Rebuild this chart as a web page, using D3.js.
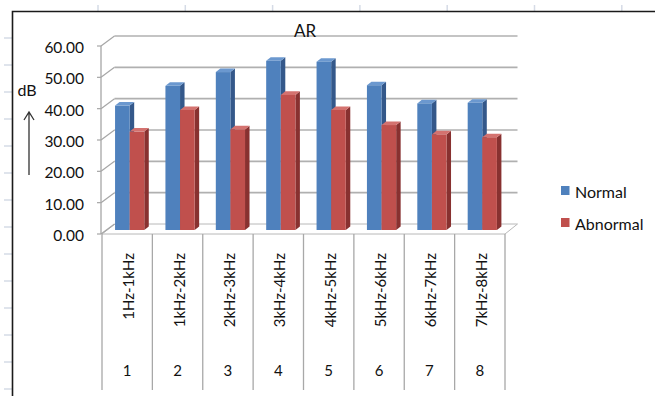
<!DOCTYPE html>
<html>
<head>
<meta charset="utf-8">
<script src="https://cdn.jsdelivr.net/npm/d3@7"></script>
<style>
  html, body { margin: 0; padding: 0; background: #fff; }
  svg { display: block; font-family: Lato, "Open Sans", sans-serif; }
</style>
</head>
<body>
<div id="chart"></div>
<script>
const categories = ["1Hz-1kHz", "1kHz-2kHz", "2kHz-3kHz", "3kHz-4kHz", "4kHz-5kHz", "5kHz-6kHz", "6kHz-7kHz", "7kHz-8kHz"];
const groupIds   = ["1", "2", "3", "4", "5", "6", "7", "8"];
const seriesNames = ["Normal", "Abnormal"];
const normal   = [39.7, 46.0, 50.4, 54.0, 53.7, 46.2, 40.4, 40.6];
const abnormal = [31.4, 38.3, 32.1, 43.1, 38.3, 33.5, 30.5, 29.6];
const yTicks   = [0, 10, 20, 30, 40, 50, 60];

const W = 655, H = 396;
const colors = {
  Normal:   { front: "#4f81bd", side: "#34588a", top: "#6b98cf" },
  Abnormal: { front: "#c0504d", side: "#883130", top: "#d4726f" }
};

// 3d depth: back wall is offset by (dx, dy) from the front plane
const depthX = 12.5, depthY = -10;
const barDepth = 0.4;            // where bar fronts sit between front and back
const barThick = { x: 4.5, y: -3.6 };

const svg = d3.select("#chart").append("svg").attr("width", W).attr("height", H);

// spreadsheet grid stubs outside the chart frame
const gridCol = "#d5dbe6";
d3.range(98, W, 87.3).forEach(x =>
  svg.append("line").attr("x1", x).attr("x2", x).attr("y1", 5).attr("y2", 11)
    .attr("stroke", gridCol).attr("stroke-width", 1.5));
d3.range(38, H, 27).forEach(y =>
  svg.append("line").attr("x1", 4).attr("x2", 12).attr("y1", y).attr("y2", y)
    .attr("stroke", gridCol).attr("stroke-width", 1.5));

// chart frame
svg.append("path").attr("d", `M12.5,${H}V11.5H${W}`)
  .attr("fill", "none").attr("stroke", "#1a1a1a").attr("stroke-width", 1.6);

const x0 = d3.scaleBand().domain(categories).range([102, 505]);
const x1 = d3.scaleBand().domain(seriesNames)
  .range([x0.bandwidth() * 0.16, x0.bandwidth() * 0.74]);
const y = d3.scaleLinear().domain([0, 60]).range([234, 46]);

const plot = svg.append("g");
const axisCol = "#a6a6a6";

// floor
const fl = x0.range();
plot.append("path")
  .attr("d", `M${fl[0]},${y(0)}L${fl[1]},${y(0)}L${fl[1] + depthX},${y(0) + depthY}L${fl[0] + depthX + 0.5},${y(0) + depthY}Z`)
  .attr("fill", "#fff").attr("stroke", "#b8b8b8").attr("stroke-width", 1);

// back wall gridlines + left side wall diagonals
yTicks.forEach(t => {
  if (t > 0) {
    plot.append("line")
      .attr("x1", fl[0] + depthX).attr("x2", fl[1] + depthX)
      .attr("y1", y(t) + depthY).attr("y2", y(t) + depthY)
      .attr("stroke", "#b0b0b0").attr("stroke-width", 1.7);
  }
  plot.append("line")
    .attr("x1", fl[0] - 1).attr("x2", fl[0] + depthX)
    .attr("y1", y(t)).attr("y2", y(t) + depthY)
    .attr("stroke", axisCol).attr("stroke-width", 1.2);
  plot.append("line")
    .attr("x1", fl[0] - 5).attr("x2", fl[0] - 1)
    .attr("y1", y(t)).attr("y2", y(t))
    .attr("stroke", axisCol).attr("stroke-width", 1.2);
  plot.append("text")
    .attr("x", 84).attr("y", y(t) + 1)
    .attr("text-anchor", "end").attr("dominant-baseline", "central")
    .style("font-size", "15.5px").attr("fill", "#111")
    .text(t.toFixed(2));
});
plot.append("line").attr("x1", fl[0] - 1).attr("x2", fl[0] - 1)
  .attr("y1", y(60)).attr("y2", y(0))
  .attr("stroke", axisCol).attr("stroke-width", 1.3);

// bars
const sx = depthX * barDepth, sy = depthY * barDepth;
const rows = categories.map((c, i) => ({ cat: c, values: [normal[i], abnormal[i]] }));
const groups = plot.selectAll("g.cat").data(rows).join("g").attr("class", "cat");
groups.each(function(row) {
  const g = d3.select(this);
  seriesNames.forEach((s, j) => {
    const v = row.values[j];
    const xl = x0(row.cat) + x1(s) + sx;
    const xr = xl + x1.bandwidth();
    const yt = y(v) + sy, yb = y(0) + sy;
    const c = colors[s];
    g.append("path") // side
      .attr("d", `M${xr},${yt}L${xr + barThick.x},${yt + barThick.y}L${xr + barThick.x},${yb + barThick.y}L${xr},${yb}Z`)
      .attr("fill", c.side);
    g.append("path") // top
      .attr("d", `M${xl},${yt}L${xl + barThick.x},${yt + barThick.y}L${xr + barThick.x},${yt + barThick.y}L${xr},${yt}Z`)
      .attr("fill", c.top);
    g.append("rect")
      .attr("x", xl).attr("y", yt).attr("width", xr - xl).attr("height", yb - yt)
      .attr("fill", c.front);
  });
});

// category table below the floor
const edges = categories.map(c => x0(c)).concat([fl[1]]);
plot.selectAll("line.sep").data(edges).join("line").attr("class", "sep")
  .attr("x1", d => d).attr("x2", d => d).attr("y1", y(0)).attr("y2", 390)
  .attr("stroke", "#a8a8a8").attr("stroke-width", 1.3);

plot.selectAll("text.cat").data(categories).join("text").attr("class", "cat")
  .attr("transform", d => `translate(${x0(d) + x0.bandwidth() / 2 + 1},253) rotate(-90)`)
  .attr("text-anchor", "end").attr("dominant-baseline", "central")
  .style("font-size", "15px").attr("fill", "#111")
  .text(d => d);

plot.selectAll("text.gid").data(groupIds).join("text").attr("class", "gid")
  .attr("x", (d, i) => x0(categories[i]) + x0.bandwidth() / 2)
  .attr("y", 370)
  .attr("text-anchor", "middle").attr("dominant-baseline", "central")
  .style("font-size", "15px").attr("fill", "#111")
  .text(d => d);

// title
svg.append("text").attr("x", 305).attr("y", 30)
  .attr("text-anchor", "middle").attr("dominant-baseline", "central")
  .style("font-size", "17px").attr("fill", "#111").text("AR");

// y-axis unit and arrow
svg.append("text").attr("x", 27).attr("y", 89)
  .attr("text-anchor", "middle").attr("dominant-baseline", "central")
  .style("font-size", "16px").attr("fill", "#111").text("dB");
svg.append("path").attr("d", "M29,175V112M24,120L29,112L34,120")
  .attr("fill", "none").attr("stroke", "#333").attr("stroke-width", 1.3);

// legend
const legend = svg.append("g").attr("transform", "translate(561,186)");
legend.selectAll("rect").data(seriesNames).join("rect")
  .attr("x", 0).attr("y", (d, i) => i * 32)
  .attr("width", 8.5).attr("height", 9)
  .attr("fill", d => colors[d].front);
legend.selectAll("text").data(seriesNames).join("text")
  .attr("x", 14).attr("y", (d, i) => i * 32 + 5)
  .attr("dominant-baseline", "central")
  .style("font-size", "16px").attr("fill", "#111")
  .text(d => d);
</script>
</body>
</html>
